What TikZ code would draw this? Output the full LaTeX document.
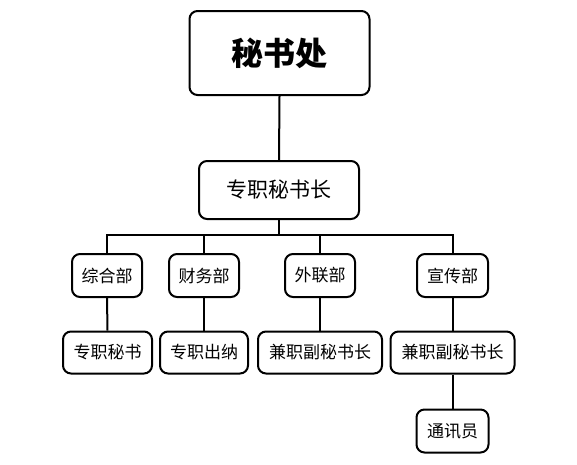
\documentclass[tikz,border=0pt]{standalone}
\usepackage{fontspec}
\setmainfont{Noto Sans CJK SC}
\begin{document}
\begin{tikzpicture}[x=1pt,y=-1pt,
  box/.style={draw=black, line width=2pt, rounded corners=8pt, fill=white, inner sep=0pt, font=\fontsize{17}{17}\selectfont},
  conn/.style={line width=2pt}]
\useasboundingbox (0,0) rectangle (577,464);
\node[box, minimum width=180pt, minimum height=84pt, font=\fontsize{32}{32}\selectfont\bfseries] (top) at (279.5,53) {秘书处};
\node[box, minimum width=160pt, minimum height=58pt, font=\fontsize{21}{21}\selectfont] (mid) at (279,190) {专职秘书长};
\node[box, minimum width=70pt, minimum height=43pt] (d1) at (107,275.5) {综合部};
\node[box, minimum width=70pt, minimum height=43pt] (d2) at (204,275.5) {财务部};
\node[box, minimum width=70pt, minimum height=43pt] (d3) at (320,275.5) {外联部};
\node[box, minimum width=71pt, minimum height=43pt] (d4) at (452.5,275.5) {宣传部};
\node[box, minimum width=89pt, minimum height=42pt] (e1) at (107.5,352.5) {专职秘书};
\node[box, minimum width=88pt, minimum height=42pt] (e2) at (204,352.5) {专职出纳};
\node[box, minimum width=124pt, minimum height=42pt] (e3) at (320,352.5) {兼职副秘书长};
\node[box, minimum width=124pt, minimum height=42pt] (e4) at (452.5,352.5) {兼职副秘书长};
\node[box, minimum width=72pt, minimum height=43pt] (f1) at (452.5,431) {通讯员};
\coordinate (bus) at (279,235);
\draw[conn] (top.south) -- (mid.north);
\draw[conn] (mid.south) -- (bus);
\draw[conn] (d1.north) |- (bus) -| (d4.north);
\draw[conn] (d2.north) -- (d2.north |- bus);
\draw[conn] (d3.north) -- (d3.north |- bus);
\draw[conn] (d1.south) -- (e1.north);
\draw[conn] (d2.south) -- (e2.north);
\draw[conn] (d3.south) -- (e3.north);
\draw[conn] (d4.south) -- (e4.north);
\draw[conn] (e4.south) -- (f1.north);
\end{tikzpicture}
\end{document}
